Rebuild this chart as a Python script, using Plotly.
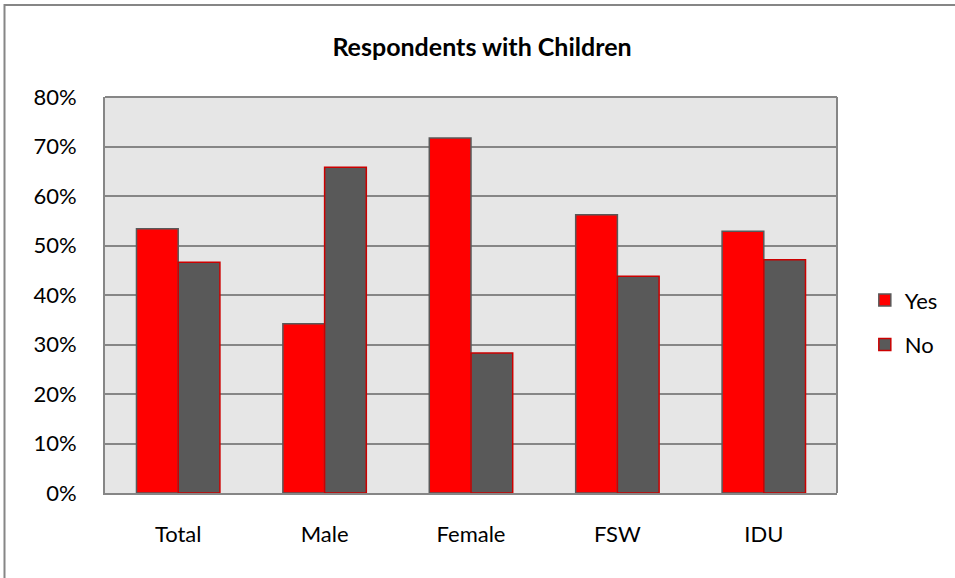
import plotly.graph_objects as go

categories = ["Total", "Male", "Female", "FSW", "IDU"]
yes_values = [53.4, 34.2, 71.7, 56.2, 52.9]
no_values = [46.6, 65.8, 28.3, 43.8, 47.1]
y_ticks = [0, 10, 20, 30, 40, 50, 60, 70, 80]
y_tick_labels = [f"{v}%" for v in y_ticks]

RED = "#ff0000"
GRAY = "#595959"
LINE = "#868686"
FONT = "Lato, 'Open Sans', sans-serif"

fig = go.Figure()
fig.add_trace(go.Bar(name="Yes", x=categories, y=yes_values, legendgroup="a",
                     marker=dict(color=RED, line=dict(color=GRAY, width=1.5))))
fig.add_trace(go.Bar(name="No", x=categories, y=no_values, legendgroup="b",
                     marker=dict(color=GRAY, line=dict(color="#cc0000", width=1.5))))

fig.update_layout(
    width=955, height=578,
    margin=dict(l=105, r=118, t=97, b=85),
    paper_bgcolor="white", plot_bgcolor="#e6e6e6",
    barmode="group", bargap=0.43, bargroupgap=0,
    font=dict(family=FONT, size=23, color="black"),
    title=dict(text="<b>Respondents with Children</b>", x=482 / 955, xanchor="center",
               y=1 - 47 / 578, yanchor="middle", font=dict(size=25, family=FONT)),
    legend=dict(x=1.038, y=0.43, xanchor="left", yanchor="middle",
                tracegroupgap=13, font=dict(size=22), bgcolor="rgba(0,0,0,0)",
                itemwidth=30),
    showlegend=True,
    xaxis=dict(showgrid=False, showline=True, linecolor=LINE, linewidth=2,
               ticks="", ticklabelstandoff=21, tickfont=dict(size=22)),
    yaxis=dict(range=[0, 80], tickvals=y_ticks, ticktext=y_tick_labels,
               showgrid=True, gridcolor=LINE, gridwidth=1.5,
               showline=True, linecolor=LINE, linewidth=2, zeroline=False,
               ticks="", ticklabelstandoff=22, tickfont=dict(size=22)),
    shapes=[
        dict(type="line", xref="paper", yref="paper",
             x0=1.0, x1=1.0, y0=0, y1=1,
             line=dict(color=LINE, width=2)),
        dict(type="line", xref="paper", yref="paper",
             x0=0, x1=1.0, y0=1.0, y1=1.0,
             line=dict(color=LINE, width=2)),
        dict(type="rect", xref="paper", yref="paper",
             x0=(4.5 - 105) / 732, x1=1.3, y0=-0.3, y1=(493 - 5) / 396,
             line=dict(color=LINE, width=2), layer="below"),
    ],
)

fig.write_html("out.html", config={"displayModeBar": False},
               post_script="document.body.style.margin='0px';")
